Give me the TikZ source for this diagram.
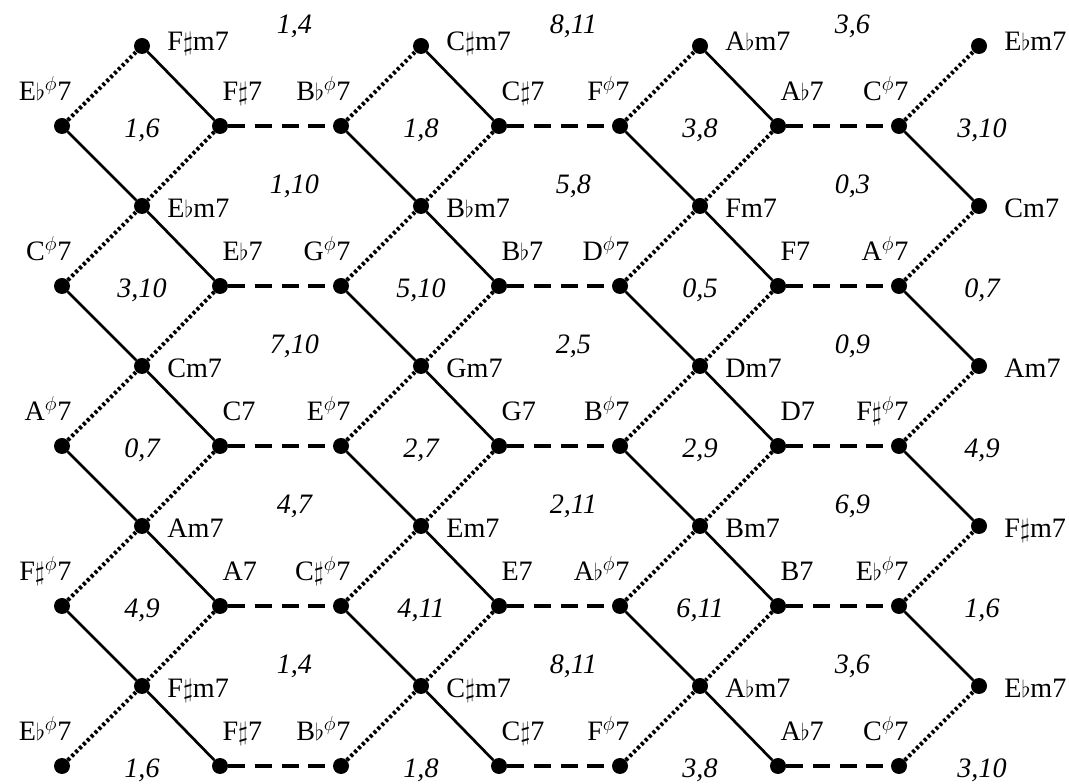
\documentclass[tikz,border=0pt]{standalone}
\usepackage{fontspec}
\setmainfont{Liberation Serif}
\usetikzlibrary{positioning}

\newcommand{\shp}{\scalebox{0.9}{$\sharp$}}
\newcommand{\flt}{\scalebox{0.8}{$\flat$}}
\newcommand{\hdim}{$^{\phi}$}

\tikzset{
  chord/.style={font=\fontsize{20}{22}\selectfont, inner sep=0pt, text height=0.45cm, text depth=0.1cm},
  pairlabel/.style={font=\fontsize{20}{22}\selectfont\itshape, inner sep=0pt},
  chorddot/.style={circle, fill=black, inner sep=0pt, minimum size=0.4cm},
  minortop/.style={chorddot, label={[chord, label distance=0.42cm, yshift=0.065cm]right:#1}},
  minorchord/.style={chorddot, label={[chord, label distance=0.42cm, yshift=-0.125cm]right:#1}},
  halfdimchord/.style={chorddot, label={[chord, xshift=0.39cm, yshift=0.38cm]above left:#1}},
  domchord/.style={chorddot, label={[chord, xshift=-0.09cm, yshift=0.38cm]above right:#1}},
  solidedge/.style={line width=1.9pt},
  dottededge/.style={line width=2.8pt, dash pattern=on 2.1pt off 1.8pt},
  dashededge/.style={line width=2.3pt, dash pattern=on 12pt off 7pt},
}

\begin{document}
\begin{tikzpicture}

  \useasboundingbox (0,0) rectangle (26.725,19.6);

  % === Row 0: minor sevenths ===
  \node[minortop={F\shp m7}] (m00) at (3.55,18.45) {};
  \node[minortop={C\shp m7}] (m01) at (10.525,18.45) {};
  \node[minortop={A\flt m7}] (m02) at (17.5,18.45) {};
  \node[minortop={E\flt m7}] (m03) at (24.475,18.45) {};

  % === Row 1 ===
  \node[halfdimchord={E\flt\hdim7}] (h10) at (1.55,16.45) {};
  \node[domchord={F\shp7}] (d10) at (5.5,16.45) {};
  \node[halfdimchord={B\flt\hdim7}] (h11) at (8.525,16.45) {};
  \node[domchord={C\shp7}] (d11) at (12.475,16.45) {};
  \node[halfdimchord={F\hdim7}] (h12) at (15.5,16.45) {};
  \node[domchord={A\flt7}] (d12) at (19.45,16.45) {};
  \node[halfdimchord={C\hdim7}] (h13) at (22.475,16.45) {};

  % === Row 2 ===
  \node[minorchord={E\flt m7}] (m20) at (3.55,14.45) {};
  \node[minorchord={B\flt m7}] (m21) at (10.525,14.45) {};
  \node[minorchord={Fm7}] (m22) at (17.5,14.45) {};
  \node[minorchord={Cm7}] (m23) at (24.475,14.45) {};

  % === Row 3 ===
  \node[halfdimchord={C\hdim7}] (h30) at (1.55,12.45) {};
  \node[domchord={E\flt7}] (d30) at (5.5,12.45) {};
  \node[halfdimchord={G\hdim7}] (h31) at (8.525,12.45) {};
  \node[domchord={B\flt7}] (d31) at (12.475,12.45) {};
  \node[halfdimchord={D\hdim7}] (h32) at (15.5,12.45) {};
  \node[domchord={F7}] (d32) at (19.45,12.45) {};
  \node[halfdimchord={A\hdim7}] (h33) at (22.475,12.45) {};

  % === Row 4 ===
  \node[minorchord={Cm7}] (m40) at (3.55,10.45) {};
  \node[minorchord={Gm7}] (m41) at (10.525,10.45) {};
  \node[minorchord={Dm7}] (m42) at (17.5,10.45) {};
  \node[minorchord={Am7}] (m43) at (24.475,10.45) {};

  % === Row 5 ===
  \node[halfdimchord={A\hdim7}] (h50) at (1.55,8.45) {};
  \node[domchord={C7}] (d50) at (5.5,8.45) {};
  \node[halfdimchord={E\hdim7}] (h51) at (8.525,8.45) {};
  \node[domchord={G7}] (d51) at (12.475,8.45) {};
  \node[halfdimchord={B\hdim7}] (h52) at (15.5,8.45) {};
  \node[domchord={D7}] (d52) at (19.45,8.45) {};
  \node[halfdimchord={F\shp\hdim7}] (h53) at (22.475,8.45) {};

  % === Row 6 ===
  \node[minorchord={Am7}] (m60) at (3.55,6.45) {};
  \node[minorchord={Em7}] (m61) at (10.525,6.45) {};
  \node[minorchord={Bm7}] (m62) at (17.5,6.45) {};
  \node[minorchord={F\shp m7}] (m63) at (24.475,6.45) {};

  % === Row 7 ===
  \node[halfdimchord={F\shp\hdim7}] (h70) at (1.55,4.45) {};
  \node[domchord={A7}] (d70) at (5.5,4.45) {};
  \node[halfdimchord={C\shp\hdim7}] (h71) at (8.525,4.45) {};
  \node[domchord={E7}] (d71) at (12.475,4.45) {};
  \node[halfdimchord={A\flt\hdim7}] (h72) at (15.5,4.45) {};
  \node[domchord={B7}] (d72) at (19.45,4.45) {};
  \node[halfdimchord={E\flt\hdim7}] (h73) at (22.475,4.45) {};

  % === Row 8 ===
  \node[minorchord={F\shp m7}] (m80) at (3.55,2.45) {};
  \node[minorchord={C\shp m7}] (m81) at (10.525,2.45) {};
  \node[minorchord={A\flt m7}] (m82) at (17.5,2.45) {};
  \node[minorchord={E\flt m7}] (m83) at (24.475,2.45) {};

  % === Row 9 ===
  \node[halfdimchord={E\flt\hdim7}] (h90) at (1.55,0.45) {};
  \node[domchord={F\shp7}] (d90) at (5.5,0.45) {};
  \node[halfdimchord={B\flt\hdim7}] (h91) at (8.525,0.45) {};
  \node[domchord={C\shp7}] (d91) at (12.475,0.45) {};
  \node[halfdimchord={F\hdim7}] (h92) at (15.5,0.45) {};
  \node[domchord={A\flt7}] (d92) at (19.45,0.45) {};
  \node[halfdimchord={C\hdim7}] (h93) at (22.475,0.45) {};

  % Solid diagonals (down to the right)
  \draw[solidedge] (m00) -- (d10) (m01) -- (d11) (m02) -- (d12);
  \draw[solidedge] (h10) -- (m20) (h11) -- (m21) (h12) -- (m22) (h13) -- (m23);
  \draw[solidedge] (m20) -- (d30) (m21) -- (d31) (m22) -- (d32);
  \draw[solidedge] (h30) -- (m40) (h31) -- (m41) (h32) -- (m42) (h33) -- (m43);
  \draw[solidedge] (m40) -- (d50) (m41) -- (d51) (m42) -- (d52);
  \draw[solidedge] (h50) -- (m60) (h51) -- (m61) (h52) -- (m62) (h53) -- (m63);
  \draw[solidedge] (m60) -- (d70) (m61) -- (d71) (m62) -- (d72);
  \draw[solidedge] (h70) -- (m80) (h71) -- (m81) (h72) -- (m82) (h73) -- (m83);
  \draw[solidedge] (m80) -- (d90) (m81) -- (d91) (m82) -- (d92);

  % Dotted diagonals (up to the right)
  \draw[dottededge] (h10) -- (m00) (h11) -- (m01) (h12) -- (m02) (h13) -- (m03);
  \draw[dottededge] (d10) -- (m20) (d11) -- (m21) (d12) -- (m22);
  \draw[dottededge] (h30) -- (m20) (h31) -- (m21) (h32) -- (m22) (h33) -- (m23);
  \draw[dottededge] (d30) -- (m40) (d31) -- (m41) (d32) -- (m42);
  \draw[dottededge] (h50) -- (m40) (h51) -- (m41) (h52) -- (m42) (h53) -- (m43);
  \draw[dottededge] (d50) -- (m60) (d51) -- (m61) (d52) -- (m62);
  \draw[dottededge] (h70) -- (m60) (h71) -- (m61) (h72) -- (m62) (h73) -- (m63);
  \draw[dottededge] (d70) -- (m80) (d71) -- (m81) (d72) -- (m82);
  \draw[dottededge] (h90) -- (m80) (h91) -- (m81) (h92) -- (m82) (h93) -- (m83);

  % Dashed horizontals
  \draw[dashededge] (d10) -- (h11) (d11) -- (h12) (d12) -- (h13);
  \draw[dashededge] (d30) -- (h31) (d31) -- (h32) (d32) -- (h33);
  \draw[dashededge] (d50) -- (h51) (d51) -- (h52) (d52) -- (h53);
  \draw[dashededge] (d70) -- (h71) (d71) -- (h72) (d72) -- (h73);
  \draw[dashededge] (d90) -- (h91) (d91) -- (h92) (d92) -- (h93);

  % Pair labels
  \node[pairlabel] (q00) at (7.36,18.95) {1,4};
  \node[pairlabel] (q01) at (14.335,18.95) {8,11};
  \node[pairlabel] (q02) at (21.31,18.95) {3,6};
  \node[pairlabel] (q10) at (3.55,16.33) {1,6};
  \node[pairlabel] (q11) at (10.525,16.33) {1,8};
  \node[pairlabel] (q12) at (17.5,16.33) {3,8};
  \node[pairlabel] (q13) at (24.55,16.33) {3,10};
  \node[pairlabel] (q20) at (7.36,14.95) {1,10};
  \node[pairlabel] (q21) at (14.335,14.95) {5,8};
  \node[pairlabel] (q22) at (21.31,14.95) {0,3};
  \node[pairlabel] (q30) at (3.55,12.33) {3,10};
  \node[pairlabel] (q31) at (10.525,12.33) {5,10};
  \node[pairlabel] (q32) at (17.5,12.33) {0,5};
  \node[pairlabel] (q33) at (24.55,12.33) {0,7};
  \node[pairlabel] (q40) at (7.36,10.95) {7,10};
  \node[pairlabel] (q41) at (14.335,10.95) {2,5};
  \node[pairlabel] (q42) at (21.31,10.95) {0,9};
  \node[pairlabel] (q50) at (3.55,8.33) {0,7};
  \node[pairlabel] (q51) at (10.525,8.33) {2,7};
  \node[pairlabel] (q52) at (17.5,8.33) {2,9};
  \node[pairlabel] (q53) at (24.55,8.33) {4,9};
  \node[pairlabel] (q60) at (7.36,6.95) {4,7};
  \node[pairlabel] (q61) at (14.335,6.95) {2,11};
  \node[pairlabel] (q62) at (21.31,6.95) {6,9};
  \node[pairlabel] (q70) at (3.55,4.33) {4,9};
  \node[pairlabel] (q71) at (10.525,4.33) {4,11};
  \node[pairlabel] (q72) at (17.5,4.33) {6,11};
  \node[pairlabel] (q73) at (24.55,4.33) {1,6};
  \node[pairlabel] (q80) at (7.36,2.95) {1,4};
  \node[pairlabel] (q81) at (14.335,2.95) {8,11};
  \node[pairlabel] (q82) at (21.31,2.95) {3,6};
  \node[pairlabel] (q90) at (3.55,0.33) {1,6};
  \node[pairlabel] (q91) at (10.525,0.33) {1,8};
  \node[pairlabel] (q92) at (17.5,0.33) {3,8};
  \node[pairlabel] (q93) at (24.55,0.33) {3,10};

\end{tikzpicture}
\end{document}
